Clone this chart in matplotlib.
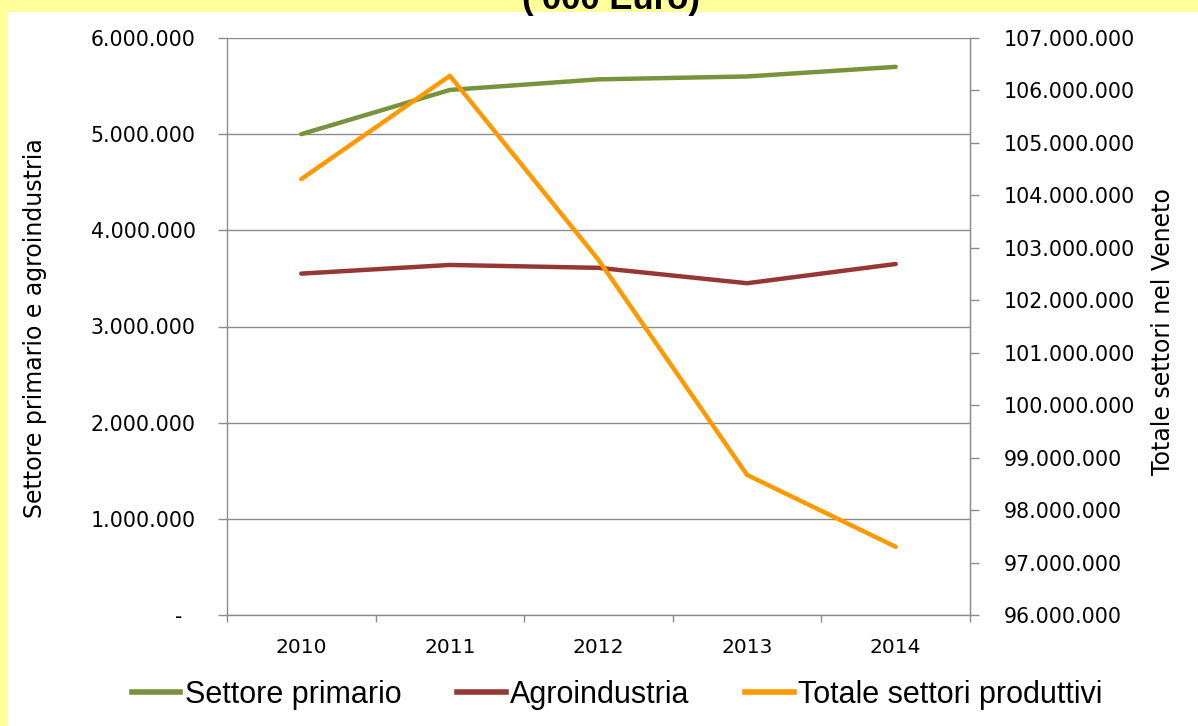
import matplotlib.pyplot as plt
from matplotlib.patches import Rectangle
from matplotlib.ticker import FuncFormatter, FixedLocator
from matplotlib.lines import Line2D

years = ["2010", "2011", "2012", "2013", "2014"]
settore_primario = [5000000, 5460000, 5570000, 5600000, 5700000]
agroindustria = [3550000, 3640000, 3610000, 3450000, 3650000]
totale_settori = [104310000, 106280000, 102770000, 98670000, 97300000]

green = "#77933C"
red = "#953735"
orange = "#FF9900"
grid_col = "#8C8C8C"


def dotted(v, pos=None):
    if v == 0:
        return "-  "
    return f"{v:,.0f}".replace(",", ".")


fig = plt.figure(figsize=(11.98, 7.26), dpi=100)
fig.patch.set_facecolor("#FFFF99")
fig.patches.append(Rectangle((8 / 1198, 0), 1, 1 - 12 / 726, transform=fig.transFigure,
                             facecolor="white", edgecolor="none", zorder=-5))

fig.text(611 / 1198, 1 - 9 / 726, "('000 Euro)", ha="center", va="baseline",
         fontsize=25, fontweight="bold", family="Liberation Sans")

ax = fig.add_axes([227 / 1198, 1 - 615 / 726, 743 / 1198, 577 / 726])
ax.set_facecolor("white")
x = list(range(len(years)))
ax.plot(x, settore_primario, color=green, lw=3.2, solid_capstyle="round", zorder=3)
ax.plot(x, agroindustria, color=red, lw=3.2, solid_capstyle="round", zorder=3)
ax.set_xlim(-0.5, 4.5)
ax.set_ylim(0, 6000000)
ax.set_yticks(range(0, 6000001, 1000000))
ax.yaxis.set_major_formatter(FuncFormatter(dotted))
ax.grid(axis="y", color=grid_col, lw=1)
ax.set_axisbelow(True)

ax.set_xticks(x)
ax.set_xticklabels(years)
ax.xaxis.set_minor_locator(FixedLocator([-0.5, 0.5, 1.5, 2.5, 3.5, 4.5]))
ax.tick_params(axis="x", which="major", length=0, pad=16.5, labelsize=14.5)
ax.tick_params(axis="x", which="minor", length=5.25, color=grid_col, width=1)
ax.tick_params(axis="y", length=6.75, color=grid_col, width=1, pad=15.75, labelsize=14.8)

ax.spines["top"].set_visible(False)
for s in ["left", "bottom", "right"]:
    ax.spines[s].set_color(grid_col)
    ax.spines[s].set_linewidth(1)

ax2 = ax.twinx()
ax2.plot(x, totale_settori, color=orange, lw=3.2, solid_capstyle="round", zorder=3)
ax2.set_ylim(96000000, 107000000)
ax2.set_yticks(range(96000000, 107000001, 1000000))
ax2.yaxis.set_major_formatter(FuncFormatter(dotted))
ax2.tick_params(axis="y", length=6.75, color=grid_col, width=1, pad=17.25, labelsize=14.8)
for s in ["top", "left", "bottom"]:
    ax2.spines[s].set_visible(False)
ax2.spines["right"].set_color(grid_col)

fig.text(35 / 1198, 1 - 328 / 726, "Settore primario e agroindustria", rotation=90,
         ha="center", va="center", fontsize=17)
fig.text(1163 / 1198, 1 - 332 / 726, "Totale settori nel Veneto", rotation=90,
         ha="center", va="center", fontsize=17)

handles = [Line2D([], [], color=c, lw=4) for c in (green, red, orange)]
fig.legend(handles, ["Settore primario", "Agroindustria", "Totale settori produttivi"],
           loc="center", bbox_to_anchor=(617 / 1198, 1 - 695 / 726), ncol=3,
           frameon=False, prop={"family": "Liberation Sans", "size": 22},
           handlelength=1.6, handletextpad=0.15, columnspacing=1.8)

fig.savefig("out.png", dpi=100, facecolor=fig.get_facecolor())
